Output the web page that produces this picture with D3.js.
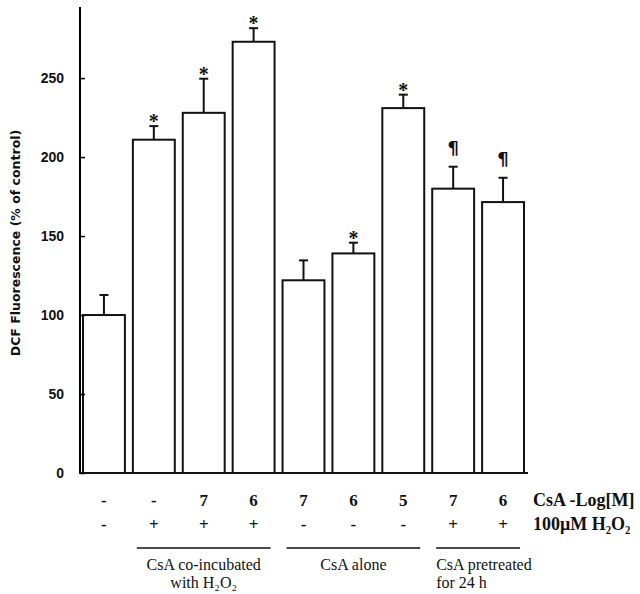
<!DOCTYPE html>
<html>
<head>
<meta charset="utf-8">
<script src="https://cdn.jsdelivr.net/npm/d3@7"></script>
<style>
  body { margin: 0; background: #fff; }
  svg text { fill: #111; }
</style>
</head>
<body>
<div id="chart"></div>
<script>
// bar data
var means = [100, 211, 228, 273, 122, 139, 231, 180, 171.5];
var errors = [12.7, 8.6, 21.6, 8.6, 12.6, 6.8, 8.5, 13.9, 15.4];
var marks = ["", "*", "*", "*", "", "*", "*", "¶", "¶"];
var csaLog = ["-", "-", "7", "6", "7", "6", "5", "7", "6"];
var h2o2 = ["-", "+", "+", "+", "-", "-", "-", "+", "+"];
var yTicks = [0, 50, 100, 150, 200, 250];
var groups = [
    { first: 1, last: 3, lines: ["CsA co-incubated", "with H\u2082O\u2082"], align: "middle" },
    { first: 4, last: 6, lines: ["CsA alone"], align: "middle" },
    { first: 7, last: 8, lines: ["CsA pretreated", "for 24 h"], align: "start" }
];

var W = 640, H = 594;
var svg = d3.select("#chart").append("svg")
    .attr("width", W)
    .attr("height", H);

var x = d3.scaleBand()
    .domain(d3.range(means.length))
    .range([79, 528])
    .paddingInner(0.16)
    .paddingOuter(0.08);

var y = d3.scaleLinear()
    .domain([0, 295])
    .range([473, 7]);

var serif = "'Liberation Serif', 'Times New Roman', serif";
var sans = "'Liberation Sans', 'DejaVu Sans', sans-serif";

// bars
svg.append("g").selectAll("rect")
    .data(means)
    .enter().append("rect")
    .attr("x", function (d, i) { return x(i); })
    .attr("y", function (d) { return y(d); })
    .attr("width", x.bandwidth())
    .attr("height", function (d) { return y(0) - y(d); })
    .attr("fill", "#fff")
    .attr("stroke", "#111")
    .attr("stroke-width", 2);

// error bars (upper half only)
var eb = svg.append("g").attr("stroke", "#111").attr("stroke-width", 2);
means.forEach(function (m, i) {
    var cx = x(i) + x.bandwidth() / 2;
    eb.append("line")
        .attr("x1", cx).attr("x2", cx)
        .attr("y1", y(m)).attr("y2", y(m + errors[i]));
    eb.append("line")
        .attr("x1", cx - 4.5).attr("x2", cx + 4.5)
        .attr("y1", y(m + errors[i])).attr("y2", y(m + errors[i]));
});

// significance marks
svg.append("g").selectAll("text")
    .data(marks)
    .enter().append("text")
    .attr("x", function (d, i) { return x(i) + x.bandwidth() / 2; })
    .attr("y", function (d, i) {
        var top = y(means[i] + errors[i]);
        return d == "¶" ? top - 13 : top + 2;
    })
    .attr("text-anchor", "middle")
    .attr("font-family", function (d) { return d == "¶" ? "'DejaVu Sans', sans-serif" : serif; })
    .attr("font-weight", "bold")
    .attr("font-size", function (d) { return d == "¶" ? 18 : 20; })
    .text(function (d) { return d; });

// y axis
var yAxis = svg.append("g")
    .attr("transform", "translate(80,0)")
    .call(d3.axisRight(y).tickValues(yTicks).tickSize(5).tickFormat(""));
yAxis.select(".domain").attr("d", "M0," + y(0) + "V" + y(295)).attr("stroke-width", 2);
yAxis.selectAll(".tick line").attr("stroke-width", 1.5);

svg.append("g").selectAll("text")
    .data(yTicks)
    .enter().append("text")
    .attr("x", 64)
    .attr("y", function (d) { return y(d) + 5; })
    .attr("text-anchor", "end")
    .attr("font-family", sans)
    .attr("font-weight", "bold")
    .attr("font-size", 14)
    .text(function (d) { return d; });

// baseline
svg.append("line")
    .attr("x1", 79).attr("x2", 528)
    .attr("y1", y(0)).attr("y2", y(0))
    .attr("stroke", "#111").attr("stroke-width", 2);

// y label
svg.append("text")
    .attr("transform", "translate(20,243) rotate(-90)")
    .attr("text-anchor", "middle")
    .attr("font-family", "'DejaVu Sans', sans-serif")
    .attr("font-weight", "bold")
    .attr("font-size", 12.5)
    .text("DCF Fluorescence (% of control)");

// treatment rows
var rows = [csaLog, h2o2];
rows.forEach(function (row, r) {
    svg.append("g").selectAll("text")
        .data(row)
        .enter().append("text")
        .attr("x", function (d, i) { return x(i) + x.bandwidth() / 2; })
        .attr("y", 506 + r * 24)
        .attr("text-anchor", "middle")
        .attr("font-family", serif)
        .attr("font-weight", "bold")
        .attr("font-size", 17)
        .text(function (d) { return d; });
});

svg.append("text")
    .attr("x", 533).attr("y", 506)
    .attr("font-family", serif)
    .attr("font-weight", "bold")
    .attr("font-size", 18)
    .text("CsA -Log[M]");
svg.append("text")
    .attr("x", 533).attr("y", 530)
    .attr("font-family", serif)
    .attr("font-weight", "bold")
    .attr("font-size", 18)
    .text("100\u03bcM H\u2082O\u2082");

// group brackets
groups.forEach(function (g) {
    var x1 = x(g.first) + x.bandwidth() / 2 - 17;
    var x2 = x(g.last) + x.bandwidth() / 2 + 17;
    svg.append("line")
        .attr("x1", x1).attr("x2", x2)
        .attr("y1", 548).attr("y2", 548)
        .attr("stroke", "#111").attr("stroke-width", 1.5);
    g.lines.forEach(function (t, k) {
        svg.append("text")
            .attr("x", g.align == "middle" ? (x1 + x2) / 2 : x1)
            .attr("y", 570 + k * 18)
            .attr("text-anchor", g.align)
            .attr("font-family", serif)
            .attr("font-size", 16)
            .text(t);
    });
});
</script>
</body>
</html>
